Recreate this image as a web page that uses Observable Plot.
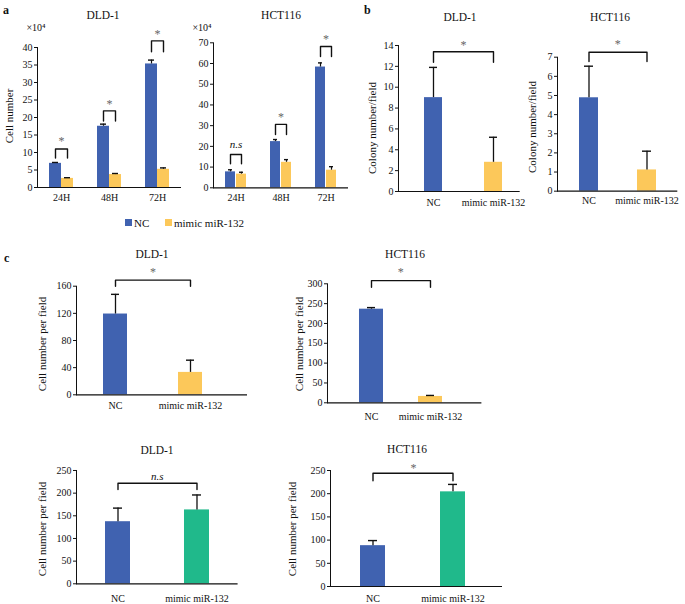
<!DOCTYPE html>
<html><head><meta charset="utf-8">
<script src="https://cdn.jsdelivr.net/npm/d3@7"></script>
<script src="https://cdn.jsdelivr.net/npm/@observablehq/plot@0.6"></script>
<style>
body{margin:0;background:#fff;}
#fig{position:relative;width:685px;height:604px;overflow:hidden;font-family:"Liberation Serif","Times New Roman",serif;color:#111;}
#fig svg{position:absolute;}
.t{position:absolute;transform:translate(-50%,-50%);white-space:nowrap;font-size:11.5px;}
.yl{position:absolute;transform:translate(-50%,-50%) rotate(-90deg);white-space:nowrap;font-size:11px;}
.lt{position:absolute;transform:translate(0,-50%);font-weight:bold;font-size:12px;}
.sw{position:absolute;width:7px;height:7px;}
</style></head><body><div id="fig"></div>
<script>
// ---------- data ----------
const groups = ["NC", "mimic miR-132"];
const times = ["24H", "48H", "72H"];

// panel a, DLD-1 (x10^4 cells)
const aDLD_nc = [6.9, 17.5, 35.3];
const aDLD_ncErr = [0.25, 0.6, 1.1];
const aDLD_mimic = [2.6, 3.7, 5.2];
const aDLD_mimicErr = [0.2, 0.3, 0.4];
const aDLD_bracketTop = [11.0, 21.9, 41.9];
const aDLD_bracketLeg = [8.4, 19.0, 38.8];
const aDLD_sig = ["*", "*", "*"];
const aDLD_sigY = [14.0, 24.8, 44.6];
const aDLD_ticks = [0, 5, 10, 15, 20, 25, 30, 35, 40];

// panel a, HCT116 (x10^4 cells)
const aHCT_nc = [7.7, 22.3, 58.3];
const aHCT_ncErr = [1.0, 1.0, 2.0];
const aHCT_mimic = [6.6, 12.3, 8.5];
const aHCT_mimicErr = [0.9, 1.3, 1.7];
const aHCT_bracketTop = [16.1, 30.6, 68.2];
const aHCT_bracketLeg = [11.6, 25.7, 63.4];
const aHCT_sig = ["n.s", "*", "*"];
const aHCT_sigY = [20.9, 35.5, 73.0];
const aHCT_ticks = [0, 10, 20, 30, 40, 50, 60, 70];

// panel b, colony number/field
const bDLD_values = [9.0, 2.8];
const bDLD_errors = [2.9, 2.4];
const bDLD_bracket = [13.4, 12.4];
const bDLD_sig = "*", bDLD_sigY = 14.3;
const bDLD_ticks = [0, 2, 4, 6, 8, 10, 12, 14];

const bHCT_values = [4.88, 1.11];
const bHCT_errors = [1.65, 0.98];
const bHCT_bracket = [7.26, 6.77];
const bHCT_sig = "*", bHCT_sigY = 7.82;
const bHCT_ticks = [0, 1, 2, 3, 4, 5, 6, 7];

// panel c, cell number per field
const c1DLD_values = [119, 33];
const c1DLD_errors = [29, 18];
const c1DLD_bracket = [169, 160];
const c1DLD_sig = "*", c1DLD_sigY = 185;
const c1DLD_ticks = [0, 40, 80, 120, 160];

const c1HCT_values = [236, 16];
const c1HCT_errors = [4, 2.5];
const c1HCT_bracket = [308, 291];
const c1HCT_sig = "*", c1HCT_sigY = 337;
const c1HCT_ticks = [0, 50, 100, 150, 200, 250, 300];

const c2DLD_values = [137, 163];
const c2DLD_errors = [30, 33];
const c2DLD_bracket = [222, 208];
const c2DLD_sig = "n.s", c2DLD_sigY = 237;
const c2DLD_ticks = [0, 50, 100, 150, 200, 250];

const c2HCT_values = [88, 204];
const c2HCT_errors = [11, 16];
const c2HCT_bracket = [244, 228];
const c2HCT_sig = "*", c2HCT_sigY = 261;
const c2HCT_ticks = [0, 50, 100, 150, 200, 250];

const BLUE = "#4062b0", YELLOW = "#fcc85a", GREEN = "#20b98b";
// ---------- drawing ----------
const fig = document.getElementById("fig");
const FONT = '"Liberation Serif","Times New Roman",serif';

function addText(text, x, y, cls, extra) {
  const d = document.createElement("div");
  d.className = cls; d.textContent = text;
  d.style.left = x + "px"; d.style.top = y + "px";
  if (extra) Object.assign(d.style, extra);
  fig.appendChild(d);
}
function put(svg, left, top) {
  svg.style.left = left + "px"; svg.style.top = top + "px";
  fig.appendChild(svg);
}
function sigMarks(data, opts) {
  return [
    Plot.text(data, {...opts, y: "y", text: "label", filter: d => d.label === "*", fontSize: 12, fill: "#666", dy: 3}),
    Plot.text(data, {...opts, y: "y", text: "label", filter: d => d.label !== "*", fontSize: 11, fontStyle: "italic", fill: "#111"})
  ];
}

function groupedPanel(c) {
  const rows = [], br = [];
  times.forEach((t, i) => {
    rows.push({time: t, group: groups[0], value: c.nc[i], err: c.ncErr[i]});
    rows.push({time: t, group: groups[1], value: c.mi[i], err: c.miErr[i]});
    br.push({time: t, group: groups[0], y: c.leg[i]});
    br.push({time: t, group: groups[0], y: c.top[i]});
    br.push({time: t, group: groups[1], y: c.top[i]});
    br.push({time: t, group: groups[1], y: c.leg[i]});
  });
  const sig = times.map((t, i) => ({time: t, label: c.sig[i], y: c.sigY[i]}));
  return Plot.plot({
    width: c.width, height: c.height,
    marginLeft: c.ml, marginRight: c.mr, marginTop: c.mt, marginBottom: c.mb,
    style: {background: "transparent", fontFamily: FONT, fontSize: "10px", color: "#111", overflow: "visible"},
    fx: {domain: times, padding: 0, axis: "bottom", tickSize: 0, tickPadding: 6, label: null},
    x: {domain: groups, paddingInner: c.pi, paddingOuter: c.po, axis: null},
    y: {domain: c.yDomain, ticks: c.ticks, tickFormat: d => String(d), tickSize: 3, tickPadding: 2, line: true, label: null},
    color: {domain: groups, range: [BLUE, YELLOW]},
    marks: [
      Plot.barY(rows, {fx: "time", x: "group", y: "value", fill: "group"}),
      Plot.ruleX(rows, {fx: "time", x: "group", y1: "value", y2: d => d.value + d.err, stroke: "#111", strokeWidth: 1.2}),
      Plot.tickY(rows, {fx: "time", x: "group", y: d => d.value + d.err, stroke: "#111", strokeWidth: 1.4, insetLeft: 3, insetRight: 3}),
      Plot.ruleY([0], {stroke: "#111", strokeWidth: 1.2}),
      Plot.line(br, {fx: "time", x: "group", y: "y", z: "time", stroke: "#111", strokeWidth: 1.4}),
      ...sigMarks(sig, {fx: "time"})
    ]
  });
}

function pairPanel(c) {
  const rows = groups.map((g, i) => ({group: g, value: c.values[i], err: c.errors[i]}));
  const br = [
    {group: groups[0], y: c.bracket[1]}, {group: groups[0], y: c.bracket[0]},
    {group: groups[1], y: c.bracket[0]}, {group: groups[1], y: c.bracket[1]}
  ];
  const sig = [{label: c.sig, y: c.sigY}];
  return Plot.plot({
    width: c.width, height: c.height,
    marginLeft: c.ml, marginRight: c.mr, marginTop: c.mt, marginBottom: c.mb,
    style: {background: "transparent", fontFamily: FONT, fontSize: "10px", color: "#111", overflow: "visible"},
    x: {domain: groups, paddingInner: c.pi, paddingOuter: c.po, tickSize: 0, tickPadding: c.tp, label: null},
    y: {domain: [0, c.ticks[c.ticks.length - 1]], ticks: c.ticks, tickFormat: d => String(d), tickSize: 3, tickPadding: 2, line: true, label: null},
    color: {domain: groups, range: c.colors},
    marks: [
      Plot.barY(rows, {x: "group", y: "value", fill: "group"}),
      Plot.ruleX(rows, {x: "group", y1: "value", y2: d => d.value + d.err, stroke: "#111", strokeWidth: 1.3}),
      Plot.tickY(rows, {x: "group", y: d => d.value + d.err, stroke: "#111", strokeWidth: 1.4, insetLeft: c.cap, insetRight: c.cap}),
      Plot.ruleY([0], {stroke: "#111", strokeWidth: 1.2, insetRight: -c.ext}),
      Plot.line(br, {x: "group", y: "y", stroke: "#111", strokeWidth: 1.4}),
      ...sigMarks(sig, {})
    ]
  });
}

// panel a
put(groupedPanel({nc: aDLD_nc, ncErr: aDLD_ncErr, mi: aDLD_mimic, miErr: aDLD_mimicErr,
  top: aDLD_bracketTop, leg: aDLD_bracketLeg, sig: aDLD_sig, sigY: aDLD_sigY,
  yDomain: [0, 40], ticks: aDLD_ticks,
  width: 186, height: 210, ml: 36, mr: 4, mt: 47, mb: 23, pi: 0.04, po: 0.96}), 0, 0);
put(groupedPanel({nc: aHCT_nc, ncErr: aHCT_ncErr, mi: aHCT_mimic, miErr: aHCT_mimicErr,
  top: aHCT_bracketTop, leg: aHCT_bracketLeg, sig: aHCT_sig, sigY: aHCT_sigY,
  yDomain: [0, 70], ticks: aHCT_ticks,
  width: 166, height: 210, ml: 26, mr: 4, mt: 42.3, mb: 22.7, pi: 0.08, po: 0.94}), 186, 0);

// panel b
put(pairPanel({values: bDLD_values, errors: bDLD_errors, bracket: bDLD_bracket, sig: bDLD_sig, sigY: bDLD_sigY,
  ticks: bDLD_ticks, colors: [BLUE, YELLOW],
  width: 172.2, height: 215, ml: 38, mr: 4, mt: 45, mb: 24, pi: 0.693, po: 0.4225, tp: 7.4, cap: 5, ext: -8.5}), 360.3, 0);
put(pairPanel({values: bHCT_values, errors: bHCT_errors, bracket: bHCT_bracket, sig: bHCT_sig, sigY: bHCT_sigY,
  ticks: bHCT_ticks, colors: [BLUE, YELLOW],
  width: 152.3, height: 215, ml: 27, mr: 5, mt: 56.7, mb: 24.3, pi: 0.676, po: 0.363, tp: 6, cap: 5, ext: 0}), 529.7, 0);

// panel c
put(pairPanel({values: c1DLD_values, errors: c1DLD_errors, bracket: c1DLD_bracket, sig: c1DLD_sig, sigY: c1DLD_sigY,
  ticks: c1DLD_ticks, colors: [BLUE, YELLOW],
  width: 214, height: 175, ml: 40, mr: 21, mt: 45.7, mb: 20.7, pi: 0.678, po: 0.346, tp: 7.4, cap: 8, ext: 18}), 36, 240);
put(pairPanel({values: c1HCT_values, errors: c1HCT_errors, bracket: c1HCT_bracket, sig: c1HCT_sig, sigY: c1HCT_sigY,
  ticks: c1HCT_ticks, colors: [BLUE, YELLOW],
  width: 196.7, height: 185, ml: 40, mr: 10, mt: 43.3, mb: 22.7, pi: 0.60, po: 0.537, tp: 10, cap: 8, ext: 7.7}), 287.3, 240);
put(pairPanel({values: c2DLD_values, errors: c2DLD_errors, bracket: c2DLD_bracket, sig: c2DLD_sig, sigY: c2DLD_sigY,
  ticks: c2DLD_ticks, colors: [BLUE, GREEN],
  width: 205.6, height: 174, ml: 40, mr: 4, mt: 40, mb: 20.7, pi: 0.6875, po: 0.354, tp: 11.4, cap: 8, ext: 0}), 36, 430);
put(pairPanel({values: c2HCT_values, errors: c2HCT_errors, bracket: c2HCT_bracket, sig: c2HCT_sig, sigY: c2HCT_sigY,
  ticks: c2HCT_ticks, colors: [BLUE, GREEN],
  width: 214, height: 174, ml: 40, mr: 8, mt: 40, mb: 18, pi: 0.686, po: 0.374, tp: 8.4, cap: 8, ext: 6}), 290, 430);

// texts
addText("a", 3, 10, "lt");
addText("b", 364, 10, "lt");
addText("c", 4, 258, "lt");
addText("DLD-1", 103, 15, "t");
addText("HCT116", 281, 15, "t");
addText("DLD-1", 460, 17, "t");
addText("HCT116", 610, 17, "t");
addText("DLD-1", 152, 254, "t");
addText("HCT116", 405, 254, "t");
addText("DLD-1", 157, 450, "t");
addText("HCT116", 407, 449, "t");
addText("×10⁴", 36, 27, "t", {fontSize: "10px"});
addText("×10⁴", 202, 27, "t", {fontSize: "10px"});
addText("Cell number", 9, 116, "yl");
addText("Colony number/field", 372, 128, "yl");
addText("Colony number/field", 532, 127, "yl");
addText("Cell number per field", 42, 344, "yl");
addText("Cell number per field", 299, 344, "yl");
addText("Cell number per field", 42, 529, "yl");
addText("Cell number per field", 292, 529, "yl");

// legend for panel a
const legendItems = [{label: groups[0], color: BLUE, x: 125, tx: 134}, {label: groups[1], color: YELLOW, x: 165, tx: 174}];
legendItems.forEach(it => {
  const s = document.createElement("div");
  s.className = "sw"; s.style.left = it.x + "px"; s.style.top = "219px"; s.style.background = it.color;
  fig.appendChild(s);
  addText(it.label, it.tx, 222.5, "t", {transform: "translate(0,-50%)", fontSize: "11px"});
});
</script>
</body></html>
